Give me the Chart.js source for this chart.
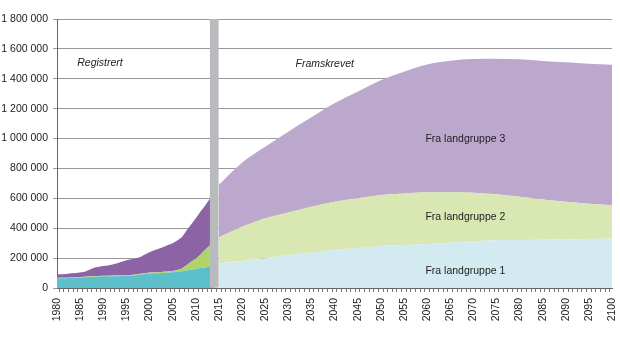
<!DOCTYPE html>
<html>
<head>
<meta charset="utf-8">
<title>Innvandrere etter landgruppe</title>
<script src="https://cdn.jsdelivr.net/npm/chart.js@4/dist/chart.umd.min.js"></script>
<style>
  html, body { margin: 0; padding: 0; background: #fff; }
  #wrap { width: 620px; height: 337px; }
</style>
</head>
<body>
<div id="wrap"><canvas id="chart"></canvas></div>
<script>
// Registrert, 1980-2014
var regYears = [1980, 1981, 1982, 1983, 1984, 1985, 1986, 1987, 1988, 1989,
                1990, 1991, 1992, 1993, 1994, 1995, 1996, 1997, 1998, 1999,
                2000, 2001, 2002, 2003, 2004, 2005, 2006, 2007, 2008, 2009,
                2010, 2011, 2012, 2013, 2014];
var regGruppe1 = [65000, 65000, 66000, 68000, 70000, 71000, 72000, 74000, 76000, 77000,
                  78000, 78000, 79000, 79000, 80000, 80000, 82000, 86000, 90000, 94000,
                  97000, 98000, 99000, 100000, 103000, 105000, 108000, 112000, 117000, 122000,
                  127000, 133000, 138000, 143000, 148000];
var regGruppe2 = [3000, 3000, 3000, 3000, 3000, 3000, 3000, 4000, 4000, 4000,
                  4000, 4000, 4000, 4000, 4000, 5000, 5000, 5000, 5000, 5000,
                  6000, 6000, 7000, 8000, 8000, 9000, 12000, 18000, 35000, 53000,
                  68000, 89000, 117000, 142000, 152000];
var regGruppe3 = [24000, 24000, 25000, 27000, 28000, 29000, 33000, 44000, 55000, 62000,
                  65000, 68000, 75000, 83000, 91000, 100000, 106000, 106000, 112000, 126000,
                  137000, 148000, 156000, 167000, 177000, 186000, 198000, 210000, 233000, 250000,
                  271000, 288000, 295000, 310000, 325000];

// Framskrevet, 2015-2100
var projYears = [2015, 2020, 2025, 2030, 2035, 2040, 2045, 2050, 2055,
                 2060, 2065, 2070, 2075, 2080, 2085, 2090, 2095, 2100];
var projGruppe1 = [165000, 181000, 199000, 221000, 236000, 254000, 266000, 281000, 288000,
                   294000, 303000, 312000, 319000, 321000, 323000, 326000, 328000, 332000];
var projGruppe2 = [174000, 229000, 267000, 285000, 308000, 323000, 334000, 341000, 345000,
                   346000, 337000, 326000, 308000, 290000, 270000, 251000, 236000, 221000];
var projGruppe3 = [351000, 428000, 479000, 540000, 598000, 659000, 713000, 768000, 814000,
                   856000, 881000, 894000, 907000, 919000, 926000, 933000, 937000, 941000];

// Skille mellom registrert og framskrevet
var splitYear = 2014;
var yMax = 1800000;

var groupLabels = ['Fra landgruppe 1', 'Fra landgruppe 2', 'Fra landgruppe 3'];
var regColors = ['#5dbfc9', '#b1d36a', '#8c64a6'];
var projColors = ['#d3eaf0', '#d9e7b3', '#bca8cc'];

var fontFamily = '"Liberation Sans", Arial, sans-serif';

function points(years, values) {
    return years.map(function(y, i) { return { x: y, y: values[i] }; });
}

function area(label, years, values, color, stack, smooth) {
    return {
        type: 'line',
        label: label,
        data: points(years, values),
        backgroundColor: color,
        borderColor: color,
        borderWidth: 0,
        pointRadius: 0,
        fill: 'stack',
        stack: stack,
        order: 1,
        cubicInterpolationMode: smooth ? 'monotone' : 'default'
    };
}

function formatNumber(v) {
    return String(v).replace(/\B(?=(\d{3})+(?!\d))/g, ' ');
}

// Tekst inne i diagrammet, plassert i dataverdier
var textLabels = [
    { text: 'Registrert', x: 1989.3, y: 1505000, italic: true },
    { text: 'Framskrevet', x: 2037.9, y: 1500000, italic: true },
    { text: groupLabels[2], x: 2068.3, y: 995000 },
    { text: groupLabels[1], x: 2068.3, y: 477000 },
    { text: groupLabels[0], x: 2068.3, y: 114000 }
];

var textPlugin = {
    id: 'textLabels',
    afterDatasetsDraw: function(chart) {
        var ctx = chart.ctx;
        var xs = chart.scales.x, ys = chart.scales.y;
        ctx.save();
        ctx.fillStyle = '#222';
        ctx.textAlign = 'center';
        ctx.textBaseline = 'middle';
        textLabels.forEach(function(t) {
            ctx.font = (t.italic ? 'italic ' : '') + '10.5px ' + fontFamily;
            ctx.fillText(t.text, xs.getPixelForValue(t.x), ys.getPixelForValue(t.y));
        });
        ctx.restore();
    }
};

new Chart(document.getElementById('chart'), {
    type: 'line',
    data: {
        datasets: [
            area(groupLabels[0], regYears, regGruppe1, regColors[0], 'reg', false),
            area(groupLabels[1], regYears, regGruppe2, regColors[1], 'reg', false),
            area(groupLabels[2], regYears, regGruppe3, regColors[2], 'reg', false),
            area(groupLabels[0], projYears, projGruppe1, projColors[0], 'proj', true),
            area(groupLabels[1], projYears, projGruppe2, projColors[1], 'proj', true),
            area(groupLabels[2], projYears, projGruppe3, projColors[2], 'proj', true),
            {
                type: 'bar',
                label: 'skille',
                data: [{ x: splitYear, y: yMax }],
                backgroundColor: '#b9babd',
                borderWidth: 0,
                barThickness: 8,
                stack: 'skille',
                order: 0
            }
        ]
    },
    options: {
        responsive: true,
        maintainAspectRatio: false,
        animation: false,
        layout: { padding: { top: 19, right: 0, bottom: 0, left: 0 } },
        plugins: {
            legend: { display: false },
            tooltip: { enabled: false }
        },
        scales: {
            x: {
                type: 'linear',
                min: 1980,
                max: 2100,
                offset: false,
                afterFit: function(scale) {
                    scale.height = 49;
                    scale.paddingLeft = 0;
                    scale.paddingRight = 8;
                },
                grid: {
                    drawOnChartArea: false,
                    drawTicks: true,
                    tickLength: 4,
                    color: '#777'
                },
                border: { display: true, color: '#666', width: 1 },
                ticks: {
                    stepSize: 1,
                    autoSkip: false,
                    maxRotation: 90,
                    minRotation: 90,
                    padding: 6,
                    color: '#222',
                    font: { family: fontFamily, size: 10.5 },
                    callback: function(v) { return v % 5 === 0 ? String(v) : ''; }
                }
            },
            y: {
                stacked: true,
                min: 0,
                max: yMax,
                afterFit: function(scale) { scale.width = 57; },
                grid: {
                    color: '#999',
                    lineWidth: 1,
                    tickLength: 4
                },
                border: { display: true, color: '#666', width: 1 },
                ticks: {
                    stepSize: 200000,
                    padding: 5,
                    color: '#222',
                    font: { family: fontFamily, size: 10.5 },
                    callback: function(v) { return formatNumber(v); }
                }
            }
        }
    },
    plugins: [textPlugin]
});
</script>
</body>
</html>
